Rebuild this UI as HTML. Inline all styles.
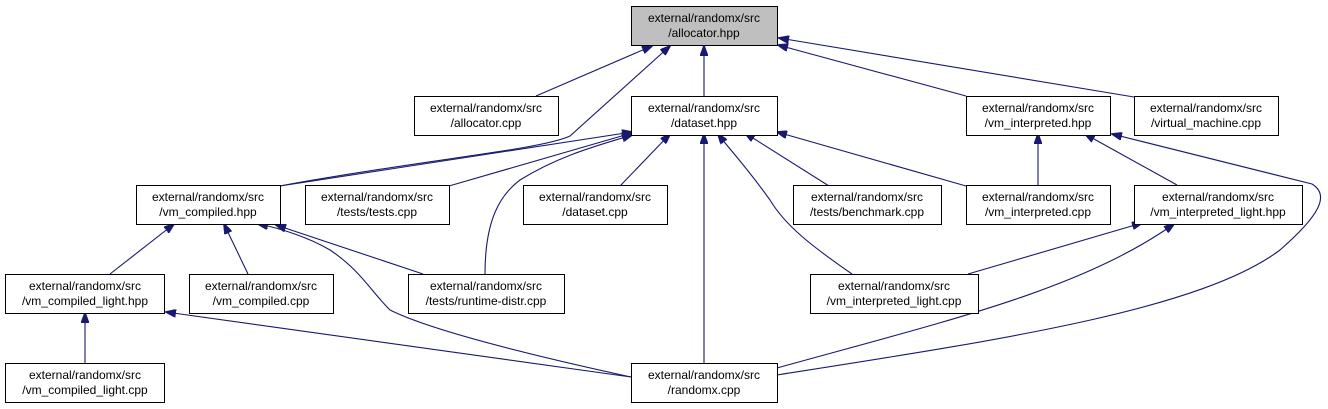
<!DOCTYPE html>
<html><head><meta charset="utf-8"><style>
body{margin:0;background:#fff;}
svg{display:block;}
text{font-family:"Liberation Sans",sans-serif;font-size:12px;fill:#000;}
</style></head><body>
<svg width="1328" height="409" viewBox="0 0 1328 409" xmlns="http://www.w3.org/2000/svg">
<defs>
<marker id="a" markerWidth="11" markerHeight="8" refX="10" refY="4" orient="auto" markerUnits="userSpaceOnUse">
<path d="M0,0 L11,4 L0,8 Z" fill="#191970" stroke="#191970"/>
</marker>
</defs>
<g fill="none" stroke="#191970" stroke-width="1.1" marker-end="url(#a)">
<path d="M536,96 L652,46"/>
<path d="M280,186 C420,160 540,150 570,136 L670,46"/>
<path d="M704,96 L704,46"/>
<path d="M966,96 L778,45"/>
<path d="M1134,97 L779,38"/>
<path d="M280,186 L632,132"/>
<path d="M449,186 L632,133"/>
<path d="M620,186 L670,134"/>
<path d="M485,274 C485,220 500,195 520,180 C560,155 600,145 632,135"/>
<path d="M829,186 L745,133"/>
<path d="M966,186 L777,132"/>
<path d="M704,363 L704,134"/>
<path d="M852,274 C810,245 785,225 770,200 C745,165 730,150 718,134"/>
<path d="M1038,185 L1038,134"/>
<path d="M1177,185 L1085,134"/>
<path d="M777,375 C1000,340 1200,310 1280,250 C1320,215 1330,195 1312,184 L1112,134"/>
<path d="M968,274 L1142,223"/>
<path d="M777,368 C950,320 1080,290 1174,224"/>
<path d="M110,274 L174,224"/>
<path d="M248,274 L224,224"/>
<path d="M423,274 L276,225"/>
<path d="M631,377 C530,355 430,330 390,310 C370,290 360,270 330,250 C310,238 280,228 258,224"/>
<path d="M85,364 L85,313"/>
<path d="M631,377 L166,312"/>
</g>
<g stroke="#000" stroke-width="1" fill="#fff">
<rect x="631.5" y="6.5" width="146" height="39" fill="#bfbfbf"/>
<rect x="414.5" y="96.5" width="144" height="39"/>
<rect x="631.5" y="96.5" width="146" height="39"/>
<rect x="966.5" y="96.5" width="144" height="39"/>
<rect x="1134.5" y="96.5" width="144" height="39"/>
<rect x="136.5" y="185.5" width="144" height="39"/>
<rect x="305.5" y="185.5" width="144" height="39"/>
<rect x="523.5" y="185.5" width="144" height="39"/>
<rect x="793.5" y="185.5" width="148" height="39"/>
<rect x="966.5" y="185.5" width="144" height="39"/>
<rect x="1134.5" y="185.5" width="168" height="39"/>
<rect x="5.5" y="274.5" width="159" height="39"/>
<rect x="189.5" y="274.5" width="144" height="39"/>
<rect x="408.5" y="274.5" width="156" height="39"/>
<rect x="810.5" y="274.5" width="168" height="39"/>
<rect x="5.5" y="363.5" width="159" height="39"/>
<rect x="631.5" y="363.5" width="146" height="39"/>
</g>
<g text-anchor="middle">
<text x="704" y="22">external/randomx/src</text><text x="704" y="37">/allocator.hpp</text>
<text x="486" y="112">external/randomx/src</text><text x="486" y="127">/allocator.cpp</text>
<text x="704" y="112">external/randomx/src</text><text x="704" y="127">/dataset.hpp</text>
<text x="1038" y="112">external/randomx/src</text><text x="1038" y="127">/vm_interpreted.hpp</text>
<text x="1206" y="112">external/randomx/src</text><text x="1206" y="127">/virtual_machine.cpp</text>
<text x="208" y="201">external/randomx/src</text><text x="208" y="216">/vm_compiled.hpp</text>
<text x="377" y="201">external/randomx/src</text><text x="377" y="216">/tests/tests.cpp</text>
<text x="595" y="201">external/randomx/src</text><text x="595" y="216">/dataset.cpp</text>
<text x="867" y="201">external/randomx/src</text><text x="867" y="216">/tests/benchmark.cpp</text>
<text x="1038" y="201">external/randomx/src</text><text x="1038" y="216">/vm_interpreted.cpp</text>
<text x="1218" y="201">external/randomx/src</text><text x="1218" y="216">/vm_interpreted_light.hpp</text>
<text x="85" y="290">external/randomx/src</text><text x="85" y="305">/vm_compiled_light.hpp</text>
<text x="261" y="290">external/randomx/src</text><text x="261" y="305">/vm_compiled.cpp</text>
<text x="486" y="290">external/randomx/src</text><text x="486" y="305">/tests/runtime-distr.cpp</text>
<text x="894" y="290">external/randomx/src</text><text x="894" y="305">/vm_interpreted_light.cpp</text>
<text x="85" y="379">external/randomx/src</text><text x="85" y="394">/vm_compiled_light.cpp</text>
<text x="704" y="379">external/randomx/src</text><text x="704" y="394">/randomx.cpp</text>
</g>
</svg>
</body></html>
